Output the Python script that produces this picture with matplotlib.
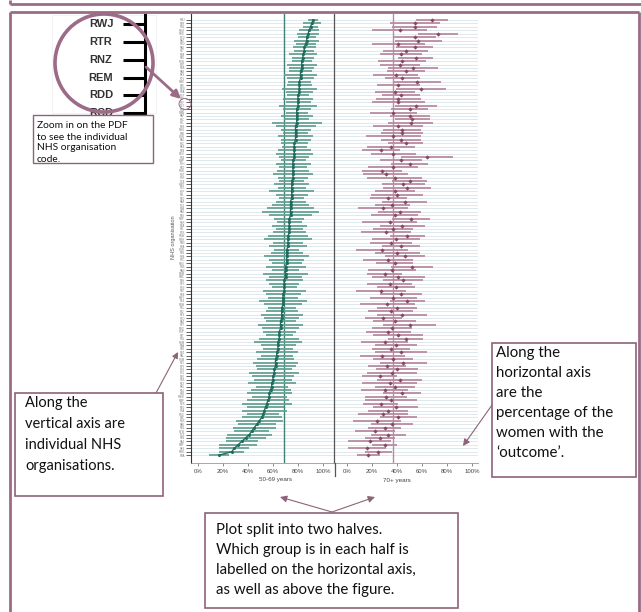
import matplotlib
matplotlib.use("Agg")
import matplotlib.pyplot as plt
from matplotlib.patches import Rectangle, Circle, Ellipse
import numpy as np

# NHS organisation codes, top to bottom
orgs = ("RWJ RTR RNZ REM RDD RCD RA7 RBD "
        "RAE RJ7 RH8 RTE RXW RBT RRK RAS "
        "RK9 RVV RWE RJE RBN RNA RCF RTF "
        "RXF RYJ RQ3 RWA RAP RJC RXL RBK "
        "RWG RM1 RGN RAJ RJZ RKB RD8 RDU "
        "RN3 RWP RXH RTD RNN RGT RXR RCB "
        "RWD RVJ RXP RJL RLQ RAX RC9 RR8 "
        "RA9 RTK RWF RFR RPA RJ1 RVR RQW "
        "RWH RM3 RBA RGR RJN RQ8 RXC RHU "
        "RNS RAN RHM RMC RTH RPY RXN RR7 "
        "RDE RWY RF4 RHW RBL RJ2 RFS RXQ "
        "RA2 RET RHQ RGP RLT RNL RQM R0A "
        "RH5 RBZ RAL RGM RP5 RVY RXK RC1 "
        "RP6 RBS RTX RK5 RL4 RJR RWW RMP "
        "RYR RTG RXA RNQ RJ6 RQX RAK RD1 "
        "RYW RCX RLN RA4 RMF RKE RWK RHA").split()

# 50-69 years: % with outcome and CI half-width
young_pct = [92, 91, 90, 89, 88, 87, 87, 86, 85, 85,
             84, 84, 83, 83, 83, 82, 82, 82, 81, 81,
             81, 81, 80, 80, 80, 80, 79, 79, 79, 79,
             79, 78, 78, 78, 78, 78, 77, 77, 77, 77,
             77, 76, 76, 76, 76, 76, 76, 75, 75, 75,
             75, 75, 75, 74, 74, 74, 74, 74, 73, 73,
             73, 73, 73, 72, 72, 72, 72, 71, 71, 71,
             71, 71, 70, 70, 70, 70, 69, 69, 69, 69,
             68, 68, 68, 68, 67, 67, 67, 67, 66, 66,
             66, 65, 65, 65, 64, 64, 64, 63, 63, 62,
             62, 62, 61, 61, 60, 60, 59, 59, 58, 57,
             57, 56, 55, 54, 53, 52, 51, 49, 47, 45,
             43, 41, 38, 35, 32, 29, 27, 17]
young_ci = [4, 7, 6, 8, 9, 7, 10, 8, 9, 8,
            11, 9, 8, 12, 10, 9, 13, 11, 9, 10,
            14, 11, 9, 12, 10, 15, 11, 9, 13, 10,
            20, 16, 12, 10, 14, 12, 11, 10, 13, 15,
            12, 10, 14, 11, 13, 16, 12, 10, 14, 11,
            18, 13, 10, 12, 15, 19, 23, 17, 12, 10,
            14, 11, 13, 16, 19, 12, 15, 10, 13, 18,
            14, 12, 16, 11, 18, 13, 15, 12, 10, 17,
            14, 12, 19, 15, 11, 13, 17, 14, 12, 18,
            15, 13, 11, 16, 19, 14, 12, 17, 13, 15,
            18, 16, 14, 20, 17, 15, 19, 13, 16, 18,
            14, 17, 20, 15, 18, 13, 16, 19, 15, 17,
            14, 18, 16, 13, 15, 12, 10, 8]

# 70+ years
old_pct = [68, 54, 54, 42, 73, 54, 57, 41, 54, 47,
           43, 55, 44, 42, 53, 47, 39, 44, 56, 41,
           59, 38, 43, 41, 41, 55, 50, 37, 50, 52,
           51, 41, 44, 44, 37, 43, 47, 35, 27, 37,
           64, 43, 50, 37, 28, 31, 38, 50, 45, 48,
           38, 40, 33, 46, 36, 29, 42, 38, 51, 34,
           44, 37, 31, 48, 39, 35, 43, 28, 40, 46,
           33, 38, 52, 36, 30, 41, 45, 34, 39, 27,
           43, 37, 48, 32, 40, 35, 44, 29, 38, 50,
           36, 33, 41, 47, 30, 39, 35, 43, 28, 37,
           45, 32, 40, 36, 26, 42, 34, 38, 30, 44,
           31, 35, 27, 39, 33, 29, 41, 24, 36, 30,
           22, 33, 26, 18, 30, 16, 25, 17]
old_ci = [13, 20, 18, 22, 16, 17, 19, 21, 15, 18,
          17, 14, 19, 16, 20, 15, 18, 14, 19, 17,
          20, 16, 15, 18, 21, 17, 15, 19, 16, 14,
          18, 20, 15, 17, 22, 16, 14, 19, 15, 18,
          21, 17, 15, 20, 16, 18, 22, 14, 17, 19,
          16, 21, 15, 18, 14, 20, 17, 19, 15, 22,
          18, 16, 20, 14, 19, 17, 15, 21, 18, 16,
          20, 15, 17, 19, 14, 21, 16, 18, 15, 20,
          17, 19, 14, 22, 16, 18, 20, 15, 17, 21,
          16, 18, 20, 14, 19, 17, 15, 21, 18, 16,
          19, 15, 17, 20, 14, 18, 22, 16, 19, 15,
          17, 21, 14, 18, 16, 20, 15, 19, 17, 13,
          16, 14, 12, 17, 10, 15, 11, 9]

young_avg = 69
old_avg = 37
xticks = [0, 20, 40, 60, 80, 100]
xticklabels = ["0%", "20%", "40%", "60%", "80%", "100%"]

teal_dark = "#1f6b5e"
teal = "#66a294"
mauve_dark = "#874862"
mauve = "#b98ba1"
grid_col = "#e0eaee"
frame_col = "#9b6b88"
box_col = "#8c6479"

W, H = 641, 612
fig = plt.figure(figsize=(W / 100, H / 100), dpi=100)
fig.patch.set_facecolor("white")


def fbox(x0, y0, x1, y1):
    return [x0 / W, 1 - y1 / H, (x1 - x0) / W, (y1 - y0) / H]


rows = np.arange(len(orgs))
ax1 = fig.add_axes(fbox(191, 14, 334, 463))
ax2 = fig.add_axes(fbox(334, 14, 478, 463))

for ax, pct, ci, avg, dark, light, xl in [
        (ax1, young_pct, young_ci, young_avg, teal_dark, teal, (-5.6, 108.8)),
        (ax2, old_pct, old_ci, old_avg, mauve_dark, mauve, (-10.4, 104.8))]:
    ax.errorbar(pct, rows, xerr=ci, fmt="none", ecolor=light, elinewidth=1.3, capsize=0, zorder=3)
    ax.axvline(avg, color=light if ax is ax2 else "#3f8072", lw=1.0, zorder=2)
    ax.set_xlim(*xl)
    ax.set_ylim(len(orgs) + 1.3, -1.75)
    ax.set_yticks(rows)
    ax.grid(axis="y", color=grid_col, lw=0.7, zorder=0)
    ax.set_xticks(xticks)
    ax.set_xticklabels(xticklabels, fontsize=4.3, color="#444", family="Liberation Sans")
    ax.tick_params(axis="x", length=2.5, width=0.6, color="#777", pad=2)
    for s in ["top", "right"]:
        ax.spines[s].set_visible(False)
    ax.spines["bottom"].set_color("#999")
    ax.spines["bottom"].set_linewidth(0.6)

ax1.plot(young_pct, rows, "o", color=teal_dark, ms=2.2, mew=0, zorder=4)
ax1.plot(young_pct, rows, "-", color=teal_dark, lw=1.0, zorder=4)
ax2.plot(old_pct, rows, "D", color=mauve_dark, ms=2.2, mew=0, zorder=4)

ax1.set_yticklabels(orgs, fontsize=1.8, color="#777", family="Liberation Sans")
ax1.tick_params(axis="y", length=3.5, width=0.6, color="#444", pad=1)
ax1.spines["left"].set_color("#333")
ax1.spines["left"].set_linewidth(0.8)
ax2.tick_params(axis="y", left=False, labelleft=False)
ax2.spines["left"].set_color("#555")
ax2.spines["left"].set_linewidth(0.9)

ax1.set_xlabel("50-69 years", fontsize=4.5, color="#444", family="Liberation Sans", labelpad=0)
ax1.xaxis.set_label_coords(0.59, -0.032)
ax2.set_xlabel("70+ years", fontsize=4.5, color="#444", family="Liberation Sans", labelpad=0)
ax2.xaxis.set_label_coords(0.44, -0.034)

# overlay in pixel coordinates for the annotations
ov = fig.add_axes([0, 0, 1, 1], zorder=10)
ov.set_xlim(0, W)
ov.set_ylim(H, 0)
ov.axis("off")

ov.text(173, 237, "NHS organisation", rotation=90, fontsize=4, color="#555",
        ha="center", va="center", family="Liberation Sans")
ov.plot([335, 335], [463, 476], color="#555", lw=0.9)

# outer frame
for xs, ys in [([10, 641], [4, 4]), ([10, 10], [0, 4]),
               ([10, 639], [12, 12]), ([10, 10], [12, 612]), ([639, 639], [12, 612])]:
    ov.plot(xs, ys, color=frame_col, lw=2.0, solid_capstyle="butt")

# magnified tick labels
ov.add_patch(Rectangle((52, 15), 104, 98, facecolor="white", edgecolor="#eeeeee", lw=0.5))
for yy, code in zip([24, 42, 60, 78, 95, 113], ["RWJ", "RTR", "RNZ", "REM", "RDD", "RCD"]):
    ov.text(101, yy, code, fontsize=8, fontweight="bold", color="#333", ha="center",
            va="center", family="Liberation Sans")
    ov.plot([123, 144], [yy, yy], color="black", lw=2.2, solid_capstyle="butt")
ov.plot([145, 145], [15, 115], color="black", lw=2.2)
ov.add_patch(Circle((104, 63), 49, fill=False, edgecolor=frame_col, lw=2.6, zorder=4))
ov.annotate("", xy=(181, 99), xytext=(146, 67),
            arrowprops=dict(arrowstyle="-|>", color=frame_col, lw=2.0, mutation_scale=12,
                            shrinkA=0, shrinkB=0))
ov.add_patch(Ellipse((185, 104), 12, 11, fill=False, edgecolor=frame_col, lw=0.7))

txt = dict(family="Lato", color="#111", va="center", ha="left", zorder=8)
box = dict(facecolor="white", edgecolor=box_col, zorder=7)

# box: zoom in
ov.add_patch(Rectangle((33, 115), 120, 48, lw=1.0, **box))
for yy, s in zip([125, 137, 148, 159], ["Zoom in on the PDF", "to see the individual",
                                         "NHS organisation", "code."]):
    ov.text(37, yy, s, fontsize=7.4, **txt)

# box: vertical axis
ov.add_patch(Rectangle((15, 393), 148, 103, lw=1.2, **box))
for yy, s in zip([403, 424, 445, 466], ["Along the", "vertical axis are",
                                         "individual NHS", "organisations."]):
    ov.text(25, yy, s, fontsize=10.5, **txt)
ov.annotate("", xy=(178, 352), xytext=(156, 393),
            arrowprops=dict(arrowstyle="-|>", color=box_col, lw=0.8, mutation_scale=9,
                            shrinkA=0, shrinkB=0))

# box: horizontal axis
ov.add_patch(Rectangle((492, 343), 144, 134, lw=1.2, **box))
for yy, s in zip([353, 373, 393, 413, 433, 453],
                 ["Along the", "horizontal axis", "are the", "percentage of the",
                  "women with the", "\u2018outcome\u2019."]):
    ov.text(496, yy, s, fontsize=10.8, **txt)
ov.annotate("", xy=(463, 446), xytext=(492, 405),
            arrowprops=dict(arrowstyle="-|>", color=box_col, lw=0.8, mutation_scale=10,
                            shrinkA=0, shrinkB=0))

# box: two halves
ov.add_patch(Rectangle((205, 513), 253, 95, lw=1.2, **box))
for yy, s in zip([530, 550, 570, 590],
                 ["Plot split into two halves.", "Which group is in each half is",
                  "labelled on the horizontal axis,", "as well as above the figure."]):
    ov.text(216, yy, s, fontsize=10.8, **txt)
for tip in [(280, 497), (375, 497)]:
    ov.annotate("", xy=tip, xytext=(332, 512),
                arrowprops=dict(arrowstyle="-|>", color=box_col, lw=0.8, mutation_scale=10,
                                shrinkA=0, shrinkB=0))

fig.savefig("out.png", dpi=100)
